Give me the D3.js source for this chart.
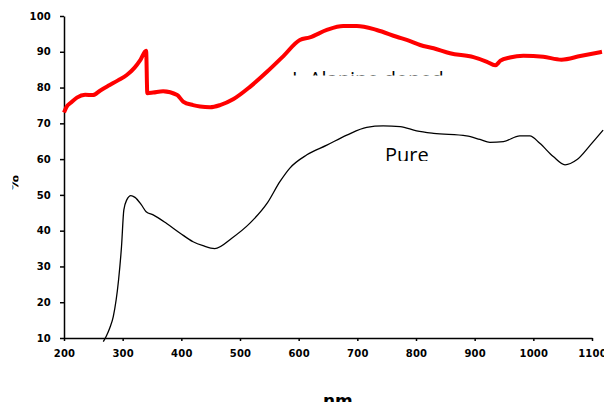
<!DOCTYPE html>
<head>
    <script src="https://d3js.org/d3.v7.min.js"></script>
</head>
<body style="margin:0; background:#fff">
    <style>
        .axis text { font-family: "DejaVu Sans", sans-serif; font-weight: bold; font-size: 10px; letter-spacing: 0.2px; fill: #000; }
        .axis path, .axis line { stroke: #000; stroke-width: 1.5; }
        .curve-label { font-family: "Open Sans", sans-serif; font-size: 20px; fill: #000; }
    </style>
    <svg width="604" height="402"></svg>

    <script>
        // L-Alanine doped (red)
        var dopedNm = [200, 204, 212, 222, 236, 249, 262, 278, 292, 307, 320, 330, 340, 342, 352, 369, 393, 403, 420, 432, 449, 466, 489, 517, 546, 574, 602,
            619, 648, 676, 699, 733, 767, 790, 807, 830, 858, 898, 921, 935, 944, 960, 983, 1017, 1048, 1080, 1117];
        var dopedT = [73.0, 74.5, 75.8, 77.2, 78.0, 77.9, 79.2, 80.7, 82.0, 83.5, 85.5, 87.7, 90.3, 78.4, 78.6, 79.0, 77.9, 76.1, 75.1, 74.7, 74.5, 75.1, 76.8, 80.2, 84.4, 88.8, 93.3,
            94.0, 96.1, 97.2, 97.2, 96.1, 94.2, 93.0, 91.9, 91.0, 89.6, 88.5, 87.2, 86.2, 87.5, 88.4, 88.9, 88.6, 87.8, 88.8, 90.0];

        // Pure (black)
        var pureNm = [267, 272, 278, 284, 293, 298, 302, 307, 314, 321, 332, 340, 352, 375, 398, 420, 437, 457, 486, 517, 546,
            568, 585, 614, 648, 682, 716, 744, 773, 801, 830, 886, 909, 926, 949, 977, 994, 1011, 1034, 1054, 1074, 1097, 1119];
        var pureT = [9.0, 10.5, 12.8, 16.0, 26.2, 35.5, 45.8, 48.6, 49.8, 49.3, 47.2, 45.3, 44.4, 42.0, 39.3, 36.9, 35.8, 35.0, 37.9, 42.1, 47.6,
            53.7, 57.5, 61.2, 63.9, 66.7, 68.9, 69.3, 69.1, 67.9, 67.2, 66.5, 65.5, 64.7, 64.9, 66.5, 66.5, 64.4, 60.7, 58.4, 59.8, 63.9, 68.1];

        var xTicks = [200, 300, 400, 500, 600, 700, 800, 900, 1000, 1100];
        var yTicks = [10, 20, 30, 40, 50, 60, 70, 80, 90, 100];

        var svg = d3.select("svg");

        var x = d3.scaleLinear().domain([200, 1100]).range([64, 592]);
        var y = d3.scaleLinear().domain([10, 100]).range([338, 16]);

        svg.append("g")
            .attr("class", "axis")
            .attr("transform", "translate(0,338)")
            .call(d3.axisBottom(x).tickValues(xTicks).tickFormat(d3.format("d"))
                .tickSize(3).tickSizeOuter(0).tickPadding(9));

        svg.append("g")
            .attr("class", "axis")
            .attr("transform", "translate(64,0)")
            .call(d3.axisLeft(y).tickValues(yTicks).tickFormat(d3.format("d"))
                .tickSize(4).tickSizeOuter(0).tickPadding(9));

        var line = d3.line()
            .x(function(d) { return x(d[0]); })
            .y(function(d) { return y(d[1]); })
            .curve(d3.curveMonotoneX);

        svg.append("path")
            .datum(pureNm.map(function(d, i) { return [d, pureT[i]]; }))
            .attr("d", line)
            .style("fill", "none")
            .style("stroke", "#000")
            .style("stroke-width", 1.3);

        svg.append("path")
            .datum(dopedNm.map(function(d, i) { return [d, dopedT[i]]; }))
            .attr("d", line)
            .style("fill", "none")
            .style("stroke", "#ff0000")
            .style("stroke-width", 4)
            .style("stroke-linejoin", "round");

        // clipped text boxes, as in the original picture
        var defs = svg.append("defs");
        defs.append("clipPath").attr("id", "clipDoped")
            .append("rect").attr("x", 280).attr("y", 60).attr("width", 200).attr("height", 15.5);
        defs.append("clipPath").attr("id", "clipPure")
            .append("rect").attr("x", 370).attr("y", 140).attr("width", 80).attr("height", 21);
        defs.append("clipPath").attr("id", "clipPct")
            .append("rect").attr("x", 12.5).attr("y", 165).attr("width", 6).attr("height", 35);

        svg.append("g").attr("clip-path", "url(#clipDoped)")
            .append("text")
            .attr("class", "curve-label")
            .attr("x", 292)
            .attr("y", 86)
            .text("L-Alanine doped");

        svg.append("g").attr("clip-path", "url(#clipPure)")
            .append("text")
            .attr("class", "curve-label")
            .attr("x", 385)
            .attr("y", 162)
            .text("Pure");

        svg.append("g").attr("clip-path", "url(#clipPct)")
            .append("text")
            .attr("transform", "translate(19,183) rotate(-90)")
            .attr("text-anchor", "middle")
            .style("font-family", "DejaVu Sans")
            .style("font-weight", "bold")
            .style("font-size", "16px")
            .text("%");

        svg.append("text")
            .attr("x", 323)
            .attr("y", 407)
            .style("font-family", "DejaVu Sans")
            .style("font-weight", "bold")
            .style("font-size", "17px")
            .text("nm");
    </script>
</body>
